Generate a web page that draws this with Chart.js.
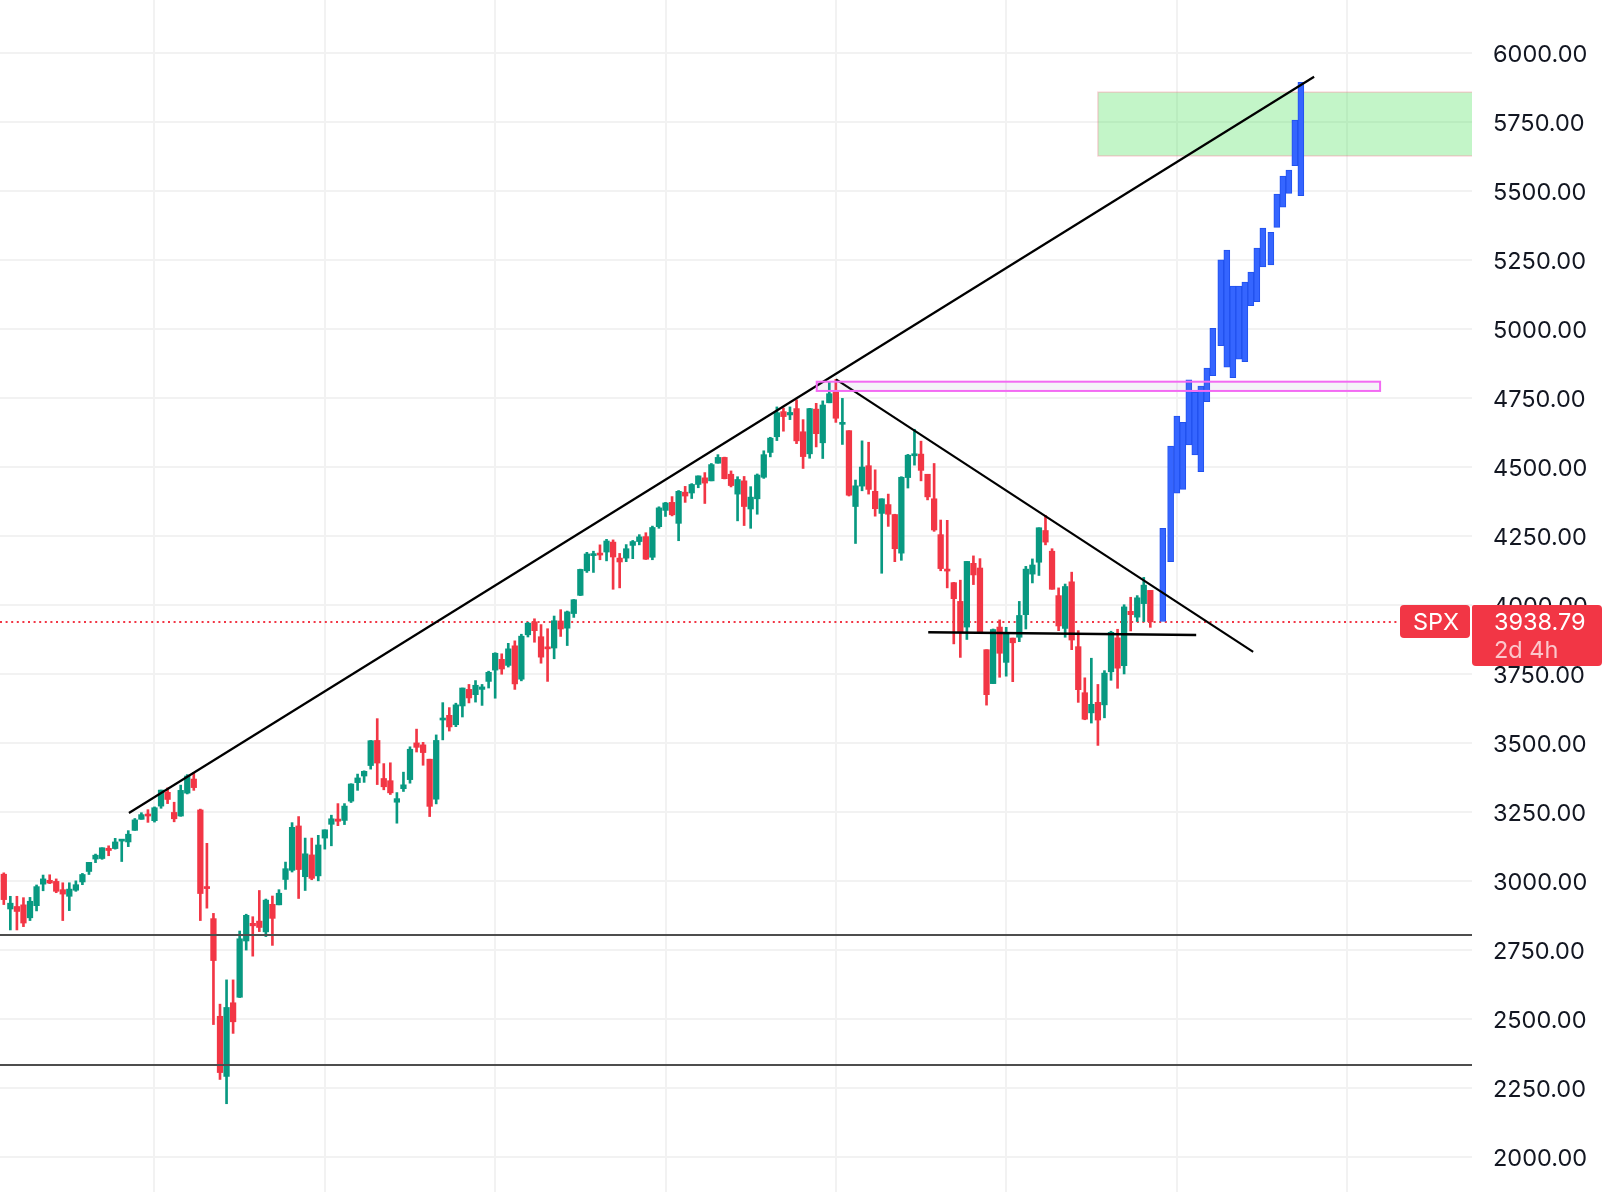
<!DOCTYPE html>
<html><head><meta charset="utf-8">
<script src="https://cdn.jsdelivr.net/npm/chart.js@4.4.1/dist/chart.umd.min.js"></script>
<style>html,body{margin:0;padding:0;background:#fff;}#wrap{width:1608px;height:1192px;position:relative;}</style>
</head><body><div id="wrap"><canvas id="c"></canvas></div>
<script>
// ---- weekly SPX candles, starting week of 2019-07-29 (index 0) ----
const firstWeek = '2019-07-29';
const openP = [3024,2898,2907,2913,2866,2910,2988,3002,2998,2968,2944,2966,2996,3034,3079,3081,3118,3117,3144,3141,
3183,3223,3240,3218,3271,3321,3248,3235,3318,3369,3257,2975,2863,2509,2291,2558,2578,2782,2846,2854,
2815,2915,2913,3005,3038,3199,3015,3094,3018,3155,3205,3224,3219,3289,3356,3380,3418,3509,3371,3363,
3285,3334,3367,3500,3493,3441,3296,3583,3600,3566,3634,3694,3675,3694,3723,3764,3803,3781,3852,3731,
3892,3939,3885,3842,3844,3942,3916,3969,4035,4124,4179,4185,4192,4228,4170,4170,4216,4230,4248,4173,
4284,4343,4372,4296,4409,4406,4437,4461,4450,4514,4535,4474,4402,4450,4348,4385,4463,4553,4610,4701,
4689,4712,4628,4548,4710,4588,4733,4778,4655,4632,4357,4431,4505,4412,4332,4364,4328,4188,4462,4541,
4547,4474,4385,4255,4130,4081,4013,3920,4151,4134,3838,3715,3920,3792,3880,3883,3965,4112,4155,4270,
4195,4034,3915,4084,3849,3682,3609,3647,3638,3758,3881,3780,3977,3956,4005,4053];
const highP = [3029,2944,2944,2939,2940,2985,3021,3022,3007,2993,2993,3000,3027,3067,3097,3120,3127,3154,3150,3182,
3226,3247,3258,3268,3329,3337,3285,3347,3385,3393,3260,3136,2882,2553,2641,2641,2818,2879,2870,2965,
2934,2945,2968,3068,3211,3233,3155,3155,3165,3185,3238,3280,3280,3352,3387,3399,3509,3588,3425,3428,
3320,3394,3486,3550,3502,3441,3529,3646,3628,3644,3699,3712,3726,3712,3760,3827,3823,3861,3870,3894,
3937,3950,3929,3914,3960,3983,3978,4020,4130,4191,4195,4218,4238,4236,4187,4219,4234,4255,4262,4286,
4356,4372,4393,4415,4430,4440,4468,4480,4513,4545,4536,4486,4465,4466,4429,4475,4559,4608,4718,4714,
4718,4744,4672,4713,4731,4740,4808,4818,4749,4632,4453,4595,4590,4490,4385,4402,4329,4465,4546,4637,
4594,4471,4513,4308,4307,4082,4090,4158,4178,4168,3838,3913,3946,3919,3880,4013,4140,4167,4280,4325,
4204,4062,4076,4119,3907,3736,3807,3712,3762,3905,3912,4001,4028,4034,4100,4053];
const lowP = [2914,2822,2822,2834,2856,2891,2964,2990,2957,2856,2892,2962,2986,3023,3066,3078,3091,3115,3070,3124,
3183,3223,3212,3213,3263,3280,3214,3234,3315,3328,2856,2901,2479,2280,2192,2447,2577,2749,2727,2816,
2798,2766,2913,2969,3032,2936,2965,3004,3000,3115,3127,3200,3204,3284,3328,3357,3405,3349,3330,3313,
3209,3324,3354,3467,3419,3233,3279,3511,3543,3559,3594,3645,3648,3636,3699,3662,3749,3775,3694,3725,
3884,3865,3789,3723,3805,3886,3853,3955,4034,4118,4118,4164,4160,4057,4062,4157,4168,4218,4165,4164,
4278,4321,4323,4233,4372,4386,4425,4368,4450,4514,4457,4428,4305,4288,4278,4329,4459,4537,4596,4630,
4672,4585,4495,4532,4573,4531,4733,4662,4582,4395,4223,4414,4402,4322,4115,4285,4157,4162,4424,4507,
4450,4381,4267,4124,4062,3859,3810,3875,4074,3900,3637,3715,3738,3742,3722,3867,3913,4080,4107,4218,
4057,3907,3883,3838,3647,3584,3572,3491,3591,3727,3698,3750,3906,3940,3940,3919];
const closeP = [2932,2919,2889,2847,2926,2979,3007,2992,2962,2952,2970,2986,3023,3067,3093,3120,3110,3141,3146,3169,
3221,3240,3235,3265,3329,3295,3225,3328,3380,3338,2954,2972,2711,2305,2541,2489,2790,2875,2837,2831,
2930,2864,2955,3044,3194,3041,3098,3009,3130,3185,3225,3216,3271,3351,3373,3397,3508,3427,3341,3319,
3298,3348,3477,3484,3465,3270,3509,3585,3558,3638,3699,3663,3709,3703,3756,3825,3768,3841,3714,3887,
3934,3907,3811,3841,3943,3913,3975,4019,4129,4185,4180,4181,4232,4174,4156,4204,4230,4247,4166,4281,
4352,4370,4327,4412,4395,4437,4468,4442,4509,4535,4458,4433,4455,4357,4391,4471,4545,4605,4697,4683,
4698,4595,4538,4712,4621,4725,4766,4677,4662,4398,4432,4500,4419,4349,4385,4329,4204,4463,4543,4546,
4488,4392,4272,4132,4123,4023,3901,4158,4109,3901,3675,3911,3825,3899,3863,3962,4130,4145,4280,4228,
4057,3924,4067,3873,3693,3586,3640,3583,3753,3901,3771,3993,3965,4026,4072,3939];

// ---- projected bars (blue), in weeks from firstWeek, low/high ----
const projWeek = [176.9,178.1,179.05,179.96,180.88,181.79,182.71,183.63,184.54,185.76,186.68,187.6,188.51,189.43,190.34,191.26,192.18,193.4,194.31,195.23,196.15,197.06,197.98];
const projLow  = [3940,4157,4405,4419,4580,4544,4483,4737,4831,4940,4862,4824,4891,4882,5085,5100,5226,5233,5369,5442,5492,5593,5484];
const projHigh = [4278,4576,4685,4662,4816,4771,4794,4859,5003,5251,5287,5156,5156,5171,5207,5294,5366,5351,5490,5555,5577,5758,5895];

// ---- axis ticks ----
const yTicks = [2000,2250,2500,2750,3000,3250,3500,3750,4000,4250,4500,4750,5000,5250,5500,5750,6000];
const yTickLabels = ['2000.00','2250.00','2500.00','2750.00','3000.00','3250.00','3500.00','3750.00','4000.00','4250.00','4500.00','4750.00','5000.00','5250.00','5500.00','5750.00','6000.00'];
const gridWeeks = [23,49,75,101,127,153,179,205]; // Jan 2020, Jul 2020, ... Jul 2023
const gridLabels = ['2020','Jul','2021','Jul','2022','Jul','2023','Jul'];

// ---- drawings ----
const riseLineW = [19.1, 200.0], riseLineV = [3246, 5915];
const fallLineW = [127.03, 190.7], fallLineV = [4818, 3830];
const supportW = [141.1, 182.0], supportV = [3901, 3891];
const levelW = [-5, 240];
const levelsV = [2804, 2332];
const targetZoneW = [167, 240], targetZoneV = [5628, 5859];
const athZoneW = [124.08, 210.07], athZoneV = [4776, 4809.5];
const symbol = 'SPX', lastPrice = 3938.79, lastPriceText = '3938.79', countdown = '2d 4h';

const UP = '#089981', DOWN = '#f23645';
const idx = openP.map((_, i) => i);
const candleColors = idx.map(i => closeP[i] >= openP[i] ? UP : DOWN);
const FONT = 'Inter, "Noto Sans", sans-serif';

const datasets = [
  { type:'line', data: riseLineW.map((w,i)=>({x:w,y:riseLineV[i]})), borderColor:'#000', borderWidth:2.2, pointRadius:0, fill:false, order:0 },
  { type:'line', data: fallLineW.map((w,i)=>({x:w,y:fallLineV[i]})), borderColor:'#000', borderWidth:2.2, pointRadius:0, fill:false, order:0 },
  { type:'line', data: supportW.map((w,i)=>({x:w,y:supportV[i]})), borderColor:'#000', borderWidth:2.5, pointRadius:0, fill:false, order:0 },
  ...levelsV.map(v => ({ type:'line', data: levelW.map(w=>({x:w,y:v})), borderColor:'#4d4d4d', borderWidth:2, pointRadius:0, fill:false, order:0 })),
  { type:'bar', data: projWeek.map((w,i)=>({x:w, y:[projLow[i], projHigh[i]]})), backgroundColor:'#3565ff', borderColor:'#2151ee', borderWidth:1, borderSkipped:false, barThickness:6, grouped:false, order:1 },
  { type:'bar', data: idx.map(i=>({x:i, y:[openP[i], closeP[i]]})), backgroundColor:candleColors, borderWidth:0, barThickness:5.6, minBarLength:2, grouped:false, order:2 },
  { type:'bar', data: idx.map(i=>({x:i, y:[lowP[i], highP[i]]})), backgroundColor:candleColors, borderWidth:0, barThickness:2, grouped:false, order:3 }
];

const overlay = {
  id:'overlay',
  beforeDatasetsDraw(chart){
    const {ctx, chartArea:a, scales:{x,y}} = chart;
    ctx.save();
    ctx.beginPath(); ctx.rect(a.left, a.top, a.right-a.left, a.bottom-a.top); ctx.clip();
    const gx1 = x.getPixelForValue(targetZoneW[0]), gx2 = x.getPixelForValue(targetZoneW[1]);
    const gy1 = y.getPixelForValue(targetZoneV[1]), gy2 = y.getPixelForValue(targetZoneV[0]);
    ctx.fillStyle = 'rgba(55,222,72,0.3)';
    ctx.fillRect(gx1, gy1, gx2-gx1, gy2-gy1);
    ctx.strokeStyle = 'rgba(245,130,150,0.35)'; ctx.lineWidth = 1.5;
    ctx.strokeRect(gx1, gy1, gx2-gx1, gy2-gy1);
    const py = y.getPixelForValue(lastPrice);
    ctx.strokeStyle = DOWN; ctx.lineWidth = 2; ctx.setLineDash([2,3.6]);
    ctx.beginPath(); ctx.moveTo(a.left, py); ctx.lineTo(a.right, py); ctx.stroke();
    ctx.restore();
  },
  afterDatasetsDraw(chart){
    const {ctx, chartArea:a, scales:{x,y}} = chart;
    ctx.save();
    ctx.beginPath(); ctx.rect(a.left, a.top, a.right-a.left, a.bottom-a.top); ctx.clip();
    const px1 = x.getPixelForValue(athZoneW[0]), px2 = x.getPixelForValue(athZoneW[1]);
    const py1 = y.getPixelForValue(athZoneV[1]), py2 = y.getPixelForValue(athZoneV[0]);
    ctx.fillStyle = 'rgba(130,120,180,0.09)';
    ctx.fillRect(px1, py1, px2-px1, py2-py1);
    ctx.strokeStyle = '#f36af3'; ctx.lineWidth = 2;
    ctx.strokeRect(px1, py1, px2-px1, py2-py1);
    ctx.restore();
  },
  afterDraw(chart){
    const {ctx, chartArea:a, scales:{y}} = chart;
    const py = y.getPixelForValue(lastPrice);
    ctx.save();
    ctx.fillStyle = DOWN;
    ctx.beginPath(); ctx.roundRect(a.right-72, py-17, 70, 33, 4); ctx.fill();
    ctx.beginPath(); ctx.roundRect(a.right, py-17, 130, 61, [2,4,4,4]); ctx.fill();
    ctx.font = '23.5px ' + FONT; ctx.textBaseline = 'middle';
    ctx.fillStyle = '#ffffff'; ctx.textAlign = 'center';
    ctx.fillText(symbol, a.right-36, py+1);
    ctx.textAlign = 'left';
    ctx.fillText(lastPriceText, a.right+22, py+1);
    ctx.fillStyle = 'rgba(255,255,255,0.72)';
    ctx.fillText(countdown, a.right+22, py+29);
    ctx.restore();
  }
};

new Chart(document.getElementById('c'), {
  type:'bar',
  data:{ datasets },
  options:{
    responsive:true, maintainAspectRatio:false, animation:false,
    layout:{ padding:0 },
    plugins:{ legend:{display:false}, tooltip:{enabled:false} },
    scales:{
      x:{ type:'linear', min:-0.58, max:224.1, offset:false,
        afterBuildTicks:s=>{ s.ticks = gridWeeks.map(v=>({value:v})); },
        ticks:{ display:false, callback:(v,i)=>gridLabels[i] },
        grid:{ color:'#f2f2f2', lineWidth:2, drawTicks:false, offset:false },
        border:{ display:false },
        afterFit:s=>{ s.height = 0; s.paddingLeft = 0; s.paddingRight = 0; s.paddingTop = 0; s.paddingBottom = 0; }
      },
      y:{ type:'linear', position:'right', min:1872, max:6193.2, beginAtZero:false,
        afterBuildTicks:s=>{ s.ticks = yTicks.map(v=>({value:v})); },
        ticks:{ callback:(v,i)=>yTickLabels[i], font:{family:FONT, size:23.5}, color:'#131722', padding:21, labelOffset:2 },
        grid:{ color:'#f2f2f2', lineWidth:2, drawTicks:false },
        border:{ display:false },
        afterFit:s=>{ s.width = 136; s.paddingTop = 0; s.paddingBottom = 0; }
      }
    }
  },
  plugins:[overlay]
});
</script></body></html>
